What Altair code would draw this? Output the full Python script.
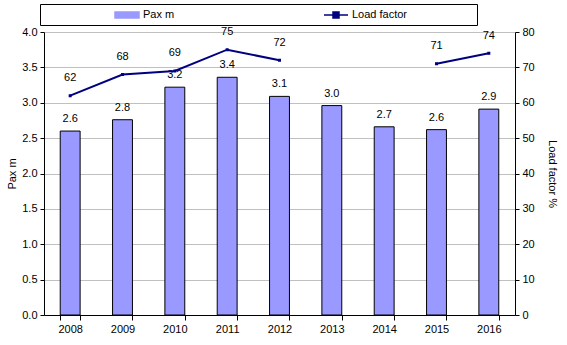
import altair as alt
import pandas as pd

years = ["2008", "2009", "2010", "2011", "2012", "2013", "2014", "2015", "2016"]
pax_m = [2.60, 2.76, 3.22, 3.36, 3.09, 2.96, 2.66, 2.62, 2.91]
load_factor = [62, 68, 69, 75, 72, None, None, 71, 74]
series_names = ["Pax m", "Load factor"]
left_ticks = [0.0, 0.5, 1.0, 1.5, 2.0, 2.5, 3.0, 3.5, 4.0]
right_ticks = [0, 10, 20, 30, 40, 50, 60, 70, 80]

df = pd.DataFrame({"year": years, "pax": pax_m, "lf": load_factor})

FONT = "Liberation Sans"
BAR_FILL = "#9999FF"
LINE_COL = "#000080"

x_enc = alt.X(
    "year:O",
    scale=alt.Scale(paddingInner=0.62, paddingOuter=0.31),
    axis=alt.Axis(title=None, labelAngle=0, tickBand="extent", tickSize=5,
                  labelPadding=3, domainColor="black", tickColor="black"),
)

color_scale = alt.Scale(domain=series_names, range=[BAR_FILL, LINE_COL])
shape_scale = alt.Scale(
    domain=series_names,
    range=["M-2,-0.5H2V0.5H-2Z", "M-2,0H2M-0.5,-0.5H0.5V0.5H-0.5Z"],
)

legend = alt.Legend(
    title="\u00a0", titleOrient="right", titlePadding=66, titleFontSize=11,
    orient="none", legendX=-4, legendY=-28, direction="horizontal",
    padding=4, strokeColor="black", fillColor="white",
    symbolSize=144, symbolStrokeWidth=1.5, symbolStrokeColor=LINE_COL,
    symbolOffset=76, labelOffset=9, columnPadding=78,
    labelFont=FONT, labelFontSize=11, labelColor="black",
)

base = alt.Chart(df)

y_left = alt.Y(
    "pax:Q",
    scale=alt.Scale(domain=[0, 4]),
    axis=alt.Axis(values=left_ticks, format=".1f", title="Pax m", grid=True,
                  gridColor="#c0c0c0", tickSize=4, titlePadding=4, labelPadding=3,
                  labelOverlap=False),
)

y_right = alt.Y(
    "lf:Q",
    scale=alt.Scale(domain=[0, 80]),
    axis=alt.Axis(values=right_ticks, format="d", title="Load factor %", orient="right",
                  grid=False, tickSize=4, titlePadding=12, labelPadding=3,
                  labelOverlap=False),
)

bars = base.transform_calculate(series="'Pax m'").mark_bar(
    stroke="black", strokeWidth=1
).encode(
    x=x_enc,
    y=y_left,
    color=alt.Color("series:N", scale=color_scale, legend=legend),
)

bar_text = base.mark_text(dy=-7, baseline="bottom", font=FONT, fontSize=11, color="black").encode(
    x=x_enc,
    y=y_left,
    text=alt.Text("pax:Q", format=".1f"),
)

left = alt.layer(bars, bar_text)

line = base.transform_calculate(series="'Load factor'").mark_line(strokeWidth=2).encode(
    x=x_enc,
    y=y_right,
    color=alt.Color("series:N", scale=color_scale, legend=legend),
)

points = base.transform_filter("isValid(datum.lf)").transform_calculate(
    series="'Load factor'"
).mark_point(filled=True, shape="square", size=36, opacity=1).encode(
    x=x_enc,
    y=y_right,
    color=alt.Color("series:N", scale=color_scale, legend=legend),
    shape=alt.Shape("series:N", scale=shape_scale, legend=legend),
)

line_text = base.transform_filter("isValid(datum.lf)").mark_text(
    dy=-17.5, baseline="middle", font=FONT, fontSize=11, color="black"
).encode(
    x=x_enc,
    y=y_right,
    text=alt.Text("lf:Q", format="d"),
)

right = alt.layer(line, points, line_text)

chart = alt.layer(left, right).resolve_scale(y="independent").properties(
    width=471, height=283,
    autosize=alt.AutoSizeParams(type="none"),
    padding={"left": 44, "top": 32, "right": 52, "bottom": 30},
).configure_view(stroke=None).configure_axis(
    labelFont=FONT, titleFont=FONT, labelFontSize=11, titleFontSize=11,
    titleFontWeight="normal", labelColor="black", titleColor="black",
    domainColor="black", tickColor="black",
)

chart.save("out.html", embed_options={"renderer": "svg", "actions": False})
